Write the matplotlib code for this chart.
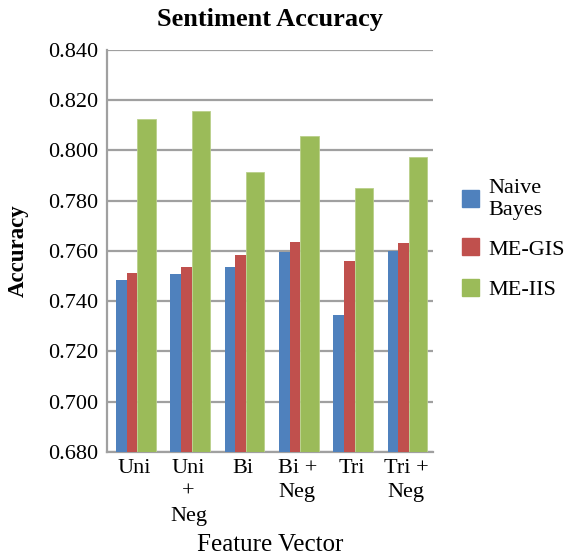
import numpy as np
import matplotlib
matplotlib.use('Agg')
import matplotlib.pyplot as plt
from matplotlib.patches import Patch

plt.rcParams['font.family'] = ['Liberation Serif', 'DejaVu Serif']

# data
categorias = ['Uni', 'Uni\n+\nNeg', 'Bi', 'Bi +\nNeg', 'Tri', 'Tri +\nNeg']
naive_bayes = [0.7484, 0.7508, 0.7536, 0.7594, 0.7345, 0.7601]
me_gis = [0.7512, 0.7537, 0.7585, 0.7635, 0.7560, 0.7630]
me_iis = [0.8126, 0.8155, 0.7916, 0.8056, 0.7852, 0.7974]
series = ['Naive\nBayes', 'ME-GIS', 'ME-IIS']
colores = ['#4F81BD', '#C0504D', '#9BBB59']

fig = plt.figure(figsize=(5.70, 5.55), dpi=100)
ax = fig.add_axes([0.188, 0.186, 0.572, 0.724])

x = np.arange(len(categorias))
# bar widths as drawn (green bars are wider in the original)
w_b, w_r, w_g = 0.197, 0.197, 0.337
inicio = x - 0.5 + 0.16
ax.bar(inicio, naive_bayes, width=w_b, align='edge', color=colores[0], zorder=3)
ax.bar(inicio + w_b, me_gis, width=w_r, align='edge', color=colores[1], zorder=3)
ax.bar(inicio + w_b + w_r, me_iis, width=w_g, align='edge', color=colores[2],
       edgecolor='#B9D08A', linewidth=0.6, zorder=3)

ax.set_xlim(-0.5, len(categorias) - 0.5)
ax.set_ylim(0.680, 0.840)
ax.set_yticks(np.arange(0.680, 0.8401, 0.020))
ax.set_yticklabels(['%.3f' % v for v in np.arange(0.680, 0.8401, 0.020)], fontsize=16)
ax.set_xticks(x)
ax.set_xticklabels(categorias, fontsize=16, linespacing=1.35)
ax.tick_params(axis='both', length=0, pad=5)
ax.tick_params(axis='y', pad=6.5)

ax.yaxis.grid(True, color='#A0A0A0', linewidth=1.6, zorder=0)
ax.set_axisbelow(True)
for s in ['top', 'right']:
    ax.spines[s].set_visible(False)
for s in ['left', 'bottom']:
    ax.spines[s].set_color('#A0A0A0')
    ax.spines[s].set_linewidth(1.6)

ax.set_title('Sentiment Accuracy', fontsize=19, fontweight='bold', pad=17)
ax.set_ylabel('Accuracy', fontsize=16.5, fontweight='bold', labelpad=14)
ax.set_xlabel('Feature Vector', fontsize=18, labelpad=6)

handles = [Patch(color=c) for c in colores]
fig.legend(handles, series, loc='upper left', bbox_to_anchor=(0.81, 0.678),
           frameon=False, fontsize=16, handlelength=0.8, handleheight=0.8,
           handletextpad=0.4, labelspacing=0.85, borderaxespad=0, borderpad=0)

plt.savefig('out.png', dpi=100)
